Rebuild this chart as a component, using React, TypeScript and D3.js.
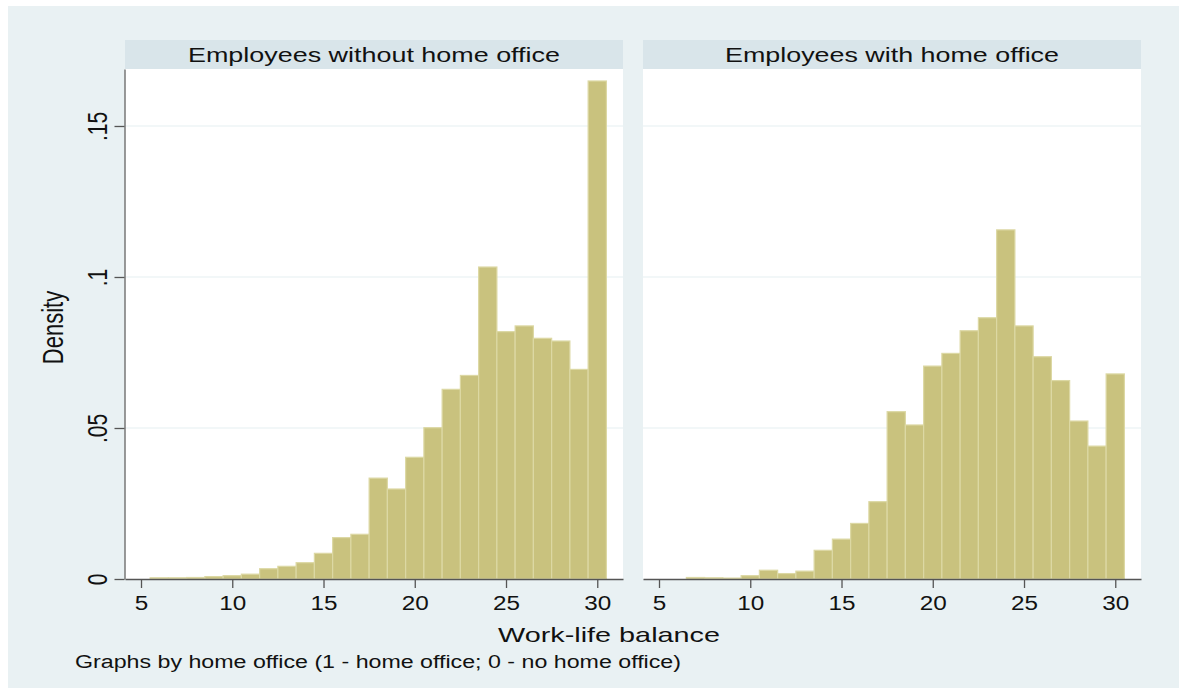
import React, { useEffect, useRef } from 'react';
import * as d3 from 'd3';

// histogram bins (bar centres) and densities
const noHomeOfficeBins = [6, 7, 8, 9, 10, 11, 12, 13, 14, 15, 16, 17, 18, 19, 20, 21, 22, 23, 24, 25, 26, 27, 28, 29, 30];
const noHomeOfficeDensity = [
  0.0004, 0.0004, 0.0005, 0.0008, 0.0011, 0.0016, 0.0034, 0.0042, 0.0054, 0.0085, 0.0137, 0.0148, 0.0334,
  0.0298, 0.0403, 0.0501, 0.0628, 0.0674, 0.1033, 0.0819, 0.0838, 0.0797, 0.0788, 0.0694, 0.1649,
];

const homeOfficeBins = [7, 8, 9, 10, 11, 12, 13, 14, 15, 16, 17, 18, 19, 20, 21, 22, 23, 24, 25, 26, 27, 28, 29, 30];
const homeOfficeDensity = [
  0.0005, 0.0004, 0.0003, 0.0011, 0.0029, 0.0018, 0.0026, 0.0095, 0.0132, 0.0184, 0.0256, 0.0554,
  0.051, 0.0705, 0.0747, 0.0822, 0.0865, 0.1156, 0.0838, 0.0736, 0.0657, 0.0523, 0.044, 0.0679,
];

const panelTitles = ['Employees without home office', 'Employees with home office'];
const xTicks = [5, 10, 15, 20, 25, 30];
const yTicks = [0, 0.05, 0.1, 0.15];
const yTickLabels = ['0', '.05', '.1', '.15'];

const FONT = 'Liberation Sans, Arial, sans-serif';

const App = () => {
  const svgRef = useRef<SVGSVGElement>(null);

  useEffect(() => {
    const svg = d3.select(svgRef.current);
    svg.selectAll('*').remove();

    const top = 69;
    const bottom = 579;
    const panelW = 498;
    const stretch = 1.35; // the original export is wider than it is tall

    svg.append('rect').attr('width', 1179).attr('height', 694).attr('fill', '#fff');
    svg.append('rect')
      .attr('x', 8).attr('y', 6).attr('width', 1171).attr('height', 682)
      .attr('fill', '#E9F1F3');

    const y = d3.scaleLinear().domain([0, 0.16887]).range([bottom, top]);

    const panels = [
      { left: 125, title: panelTitles[0], titleLen: 372, bins: noHomeOfficeBins, density: noHomeOfficeDensity },
      { left: 643, title: panelTitles[1], titleLen: 334, bins: homeOfficeBins, density: homeOfficeDensity },
    ];

    panels.forEach((p) => {
      const x = d3.scaleLinear().domain([4.123, 31.41]).range([p.left, p.left + panelW]);

      // title strip
      svg.append('rect')
        .attr('x', p.left).attr('y', 40).attr('width', panelW).attr('height', top - 40)
        .attr('fill', '#D9E5EA');
      svg.append('text')
        .attr('x', p.left + panelW / 2).attr('y', 62)
        .attr('text-anchor', 'middle')
        .attr('font-family', FONT).attr('font-size', 20).attr('fill', '#111')
        .attr('textLength', p.titleLen).attr('lengthAdjust', 'spacingAndGlyphs')
        .text(p.title);

      // plot region
      svg.append('rect')
        .attr('x', p.left).attr('y', top).attr('width', panelW).attr('height', bottom - top)
        .attr('fill', '#fff');

      svg.append('g')
        .selectAll('line')
        .data(yTicks.filter((t) => t > 0))
        .join('line')
        .attr('x1', p.left).attr('x2', p.left + panelW)
        .attr('y1', (d) => y(d)).attr('y2', (d) => y(d))
        .attr('stroke', '#E6EFF2').attr('stroke-width', 1.2);

      svg.append('g')
        .selectAll('rect')
        .data(p.bins.map((b, i) => ({ b, d: p.density[i] })))
        .join('rect')
        .attr('x', (d) => x(d.b - 0.5))
        .attr('width', (d) => x(d.b + 0.5) - x(d.b - 0.5))
        .attr('y', (d) => y(d.d))
        .attr('height', (d) => bottom - y(d.d))
        .attr('fill', '#C9C27E')
        .attr('stroke', '#DCD8A4')
        .attr('stroke-width', 1.2);

      const xAxis = svg.append('g')
        .attr('transform', `translate(0,${bottom})`)
        .call(d3.axisBottom(x).tickValues(xTicks).tickSize(9).tickSizeOuter(0));
      xAxis.select('.domain').attr('stroke', '#555').attr('stroke-width', 1.5);
      xAxis.selectAll('.tick line').attr('stroke', '#555').attr('stroke-width', 1.3);
      xAxis.selectAll('.tick text')
        .attr('y', 31).attr('dy', null)
        .attr('font-family', FONT).attr('font-size', 20).attr('fill', '#111')
        .attr('textLength', (d) => String(d).length * 13.5)
        .attr('lengthAdjust', 'spacingAndGlyphs');
    });

    // y axis on the left panel only
    const yAxis = svg.append('g')
      .attr('transform', 'translate(124.5,0)')
      .call(
        d3.axisLeft(y)
          .tickValues(yTicks)
          .tickFormat((d, i) => yTickLabels[i])
          .tickSize(10)
          .tickSizeOuter(0)
      );
    yAxis.select('.domain').attr('stroke', '#777').attr('stroke-width', 1.5);
    yAxis.selectAll('.tick line').attr('stroke', '#555').attr('stroke-width', 1.3);
    yAxis.selectAll('.tick text')
      .attr('x', null).attr('dy', null)
      .attr('text-anchor', 'middle')
      .attr('transform', `translate(-17.5,0) scale(${stretch},1) rotate(-90)`)
      .attr('font-family', FONT).attr('font-size', 21).attr('fill', '#111');

    svg.append('text')
      .attr('transform', `translate(63,327.5) scale(${stretch},1) rotate(-90)`)
      .attr('text-anchor', 'middle')
      .attr('font-family', FONT).attr('font-size', 22).attr('fill', '#111')
      .text('Density');

    svg.append('text')
      .attr('x', 609).attr('y', 642)
      .attr('text-anchor', 'middle')
      .attr('font-family', FONT).attr('font-size', 21).attr('fill', '#111')
      .attr('textLength', 222).attr('lengthAdjust', 'spacingAndGlyphs')
      .text('Work-life balance');

    svg.append('text')
      .attr('x', 75).attr('y', 668)
      .attr('font-family', FONT).attr('font-size', 18).attr('fill', '#111')
      .attr('textLength', 606).attr('lengthAdjust', 'spacingAndGlyphs')
      .text('Graphs by home office (1 - home office; 0 - no home office)');
  }, []);

  return (
    <svg ref={svgRef} width={1179} height={694} style={{ position: 'absolute', left: 0, top: 0 }}></svg>
  );
};

export default App;
